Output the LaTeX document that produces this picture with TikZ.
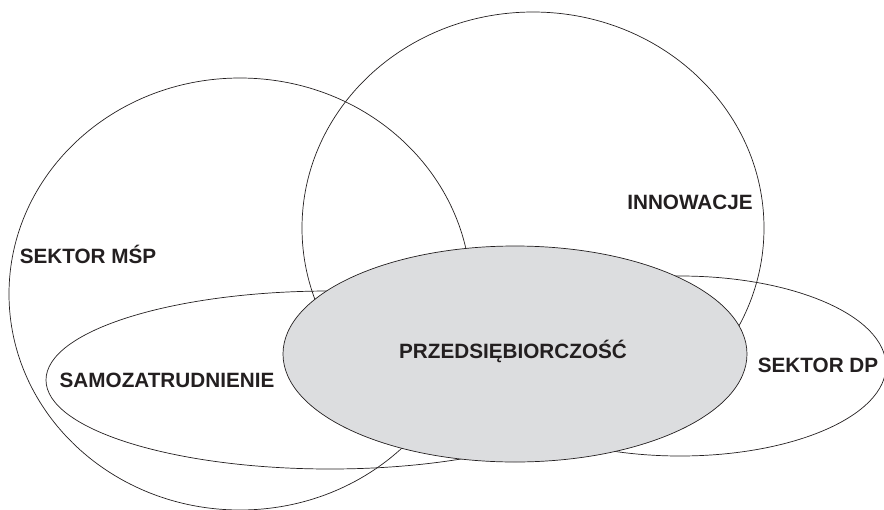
\documentclass[tikz,border=0pt]{standalone}
\usepackage{fontspec}
\setmainfont{Liberation Sans}
\usetikzlibrary{shapes.geometric}
\definecolor{shade}{HTML}{DCDDDF}
\definecolor{ink}{HTML}{231F20}
\tikzset{oval/.style={ellipse,draw=ink,line width=.7pt,inner sep=0pt,outer sep=0pt},
  bigset/.style={oval,minimum width=462pt,minimum height=432pt},
  lbl/.style={anchor=base,inner sep=0pt,text=ink,font=\bfseries\fontsize{20.7}{24}\selectfont}}
\begin{document}
\begin{tikzpicture}[x=1pt,y=-1pt]
  \useasboundingbox (0,0) rectangle (884,509);
  \node[bigset] (msp) at (240,294) {};
  \node[bigset] (inn) at (533,228) {};
  \node[oval, minimum width=568pt, minimum height=178pt] (sam) at (330,380) {};
  \node[oval, minimum width=412pt, minimum height=180pt] (dp) at (680,366) {};
  \node[oval, fill=shade, minimum width=464pt, minimum height=216pt] (prz) at (515,354) {};
  \node[lbl] (tmsp) at (88,263) {SEKTOR MŚP};
  \node[lbl] (tinn) at (690,209) {INNOWACJE};
  \node[lbl] (tprz) at (513,358) {PRZEDSIĘBIORCZOŚĆ};
  \node[lbl] (tsam) at (167,387) {SAMOZATRUDNIENIE};
  \node[lbl] (tdp) at (818,372) {SEKTOR DP};
\end{tikzpicture}
\end{document}
